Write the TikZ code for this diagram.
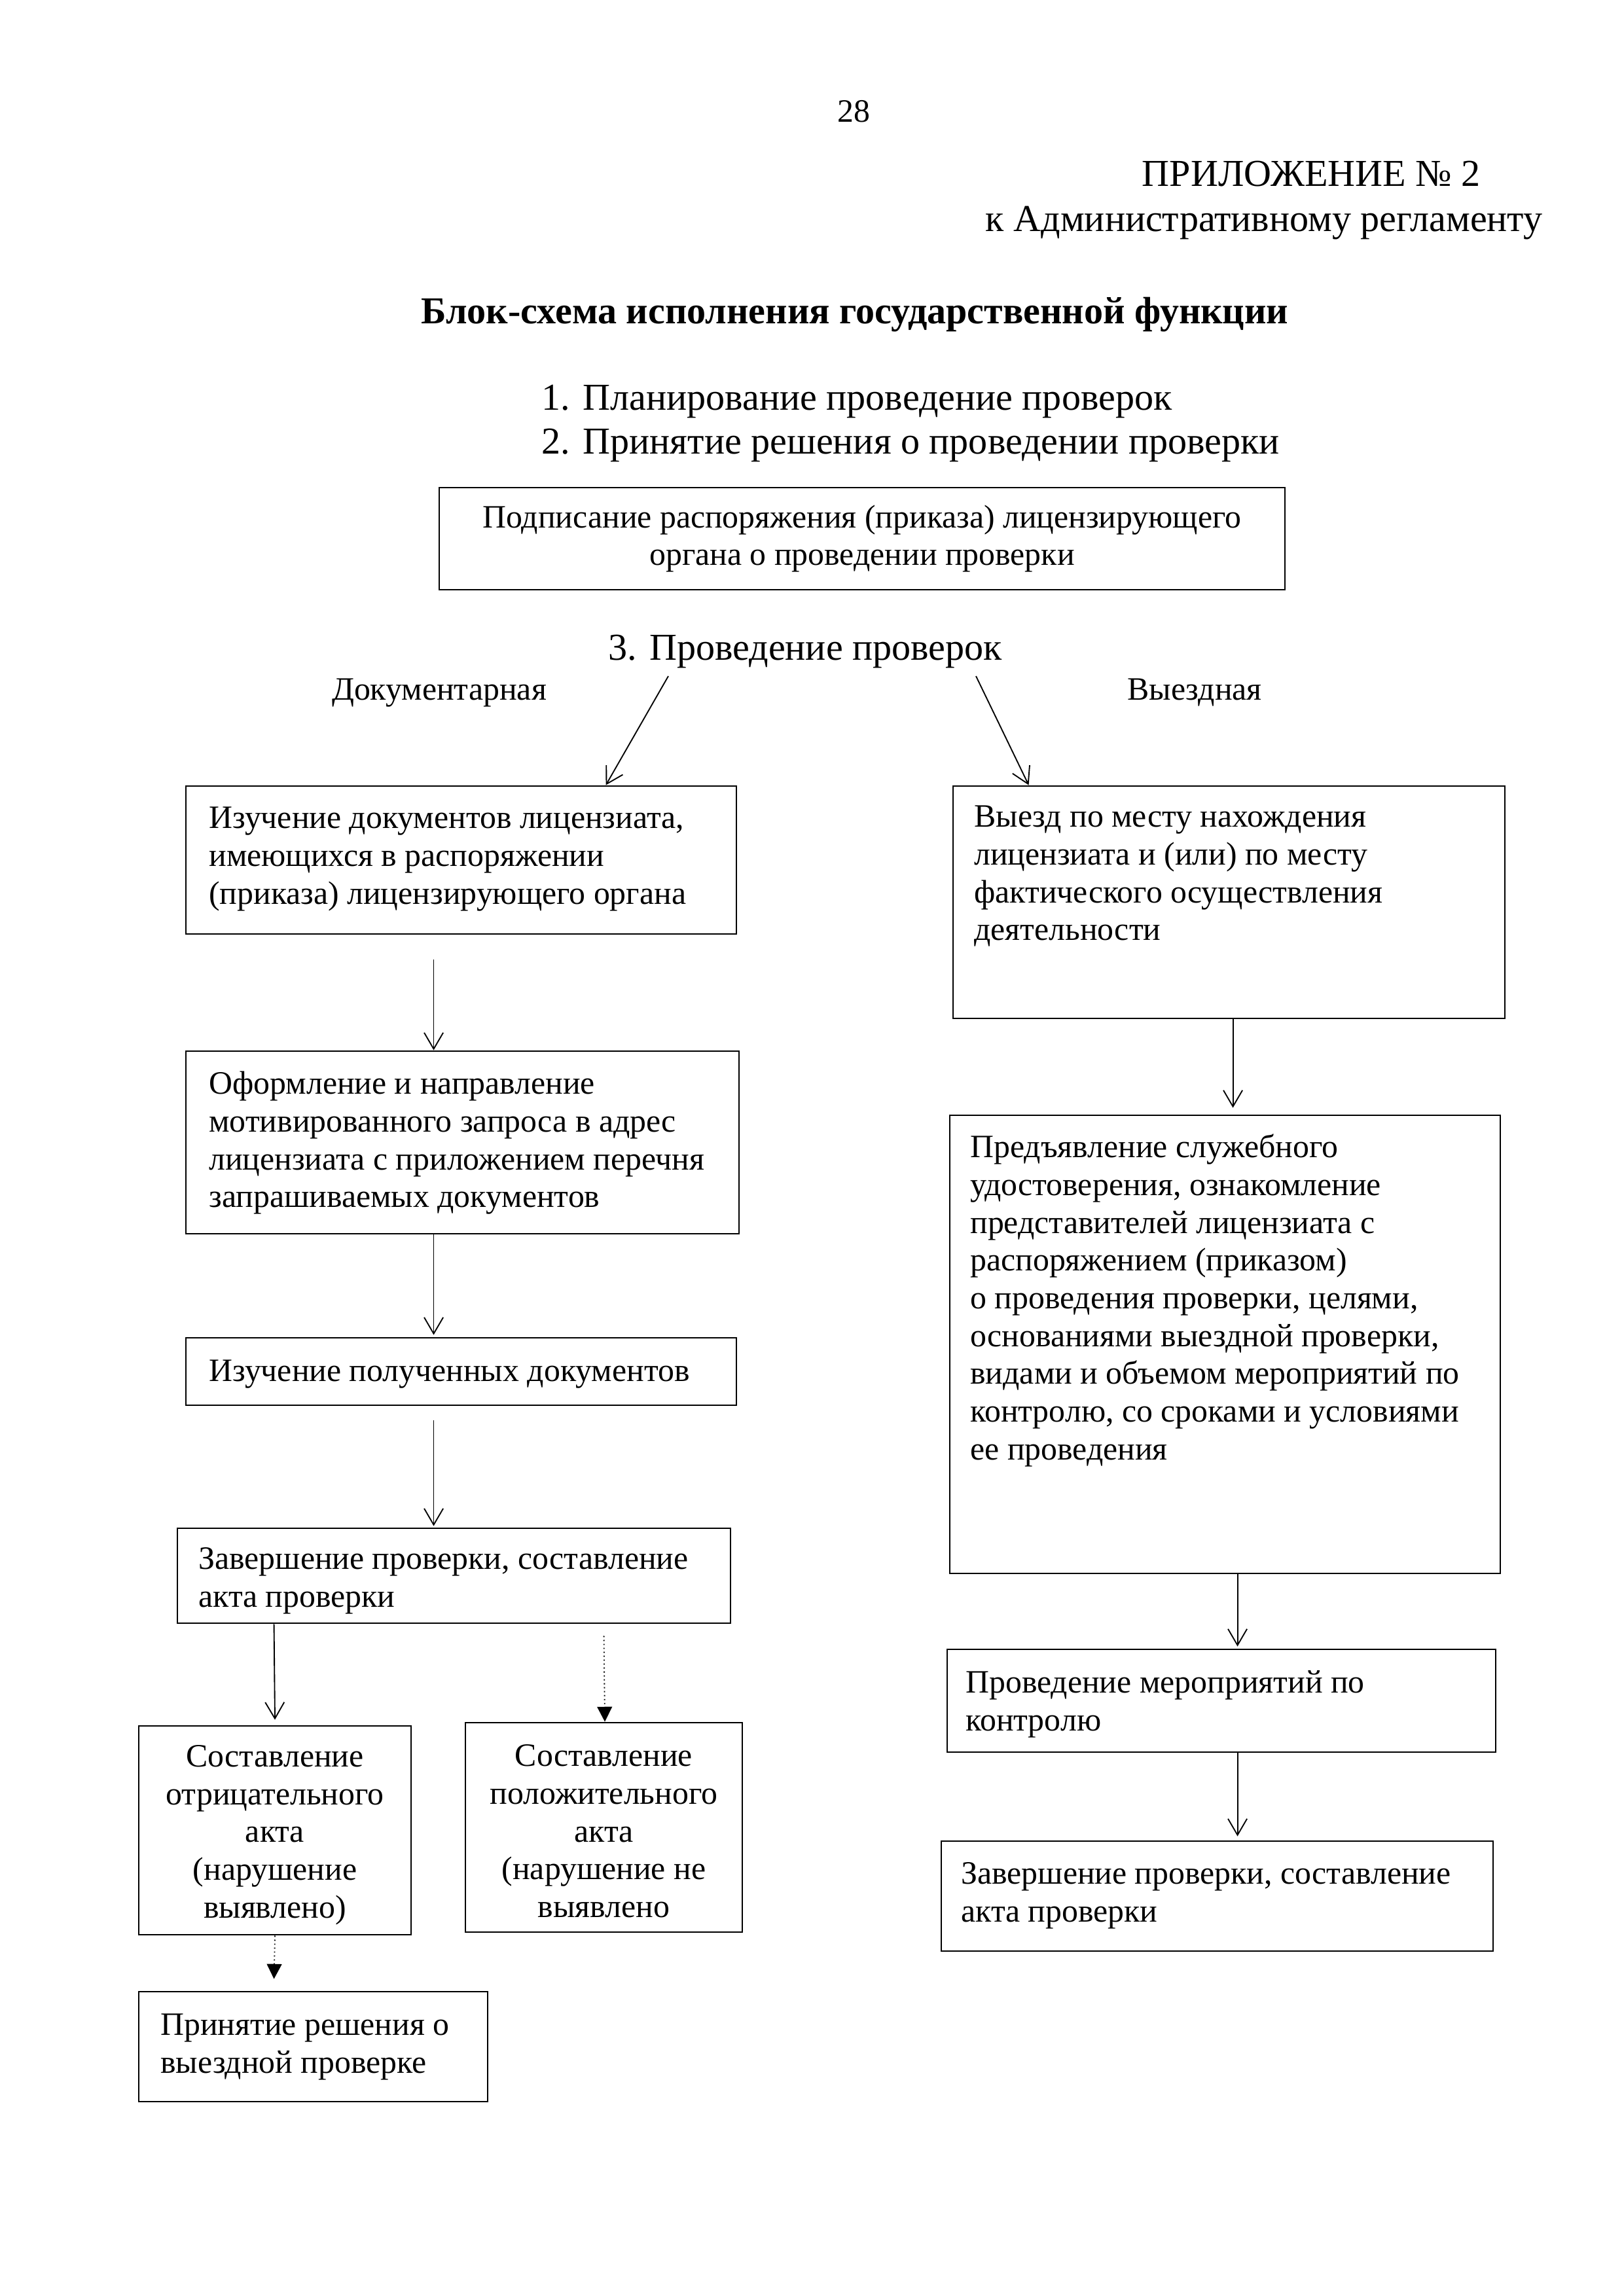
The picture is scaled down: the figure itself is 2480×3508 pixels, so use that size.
\documentclass[tikz,border=0pt]{standalone}
\usepackage{fontspec}
\setmainfont{Liberation Serif}
\usetikzlibrary{arrows.meta,calc,fit}
\begin{document}
\begin{tikzpicture}[x=0.0084677cm, y=-0.0084677cm,
  box/.style={draw, line width=0.7pt, inner sep=0pt},
  txt/.style={font=\fontsize{12}{13.9}\selectfont, inner sep=0pt, align=left, anchor=north west},
  ctxt/.style={font=\fontsize{12}{13.9}\selectfont, inner sep=0pt, align=center},
  big/.style={font=\fontsize{14}{16.1}\selectfont, inner sep=0pt},
  mid/.style={font=\fontsize{12}{13.9}\selectfont, inner sep=0pt},
  arr/.style={line width=0.45pt, -{Straight Barb[length=6pt,width=7pt]}},
  darr/.style={line width=0.45pt, densely dotted, -{Triangle[length=5.5pt,width=5.5pt]}}]
\useasboundingbox (0,0) rectangle (2480,3508);

% header
\node[mid, anchor=base] (pg) at (1304,186) {28};
\node[big, anchor=base west] (app) at (1744,284) {ПРИЛОЖЕНИЕ № 2};
\node[big, anchor=base west] (reg) at (1505,353) {к Административному регламенту};
\node[big, anchor=base, font=\fontsize{14}{16.1}\selectfont\bfseries] (title) at (1306,494) {Блок-схема исполнения государственной функции};
\node[big, anchor=base west] (s1) at (827,626) {1. Планирование проведение проверок};
\node[big, anchor=base west] (s2) at (827,693) {2. Принятие решения о проведении проверки};

% box P
\node[box, fit={(671,745) (1963,901)}] (P) {};
\node[ctxt] (Pt) at (P.center) {Подписание распоряжения (приказа) лицензирующего\\органа о проведении проверки};

\node[big, anchor=base] (s3) at (1230,1008) {3. Проведение проверок};
\node[mid, anchor=base] (doc) at (671,1069) {Документарная};
\node[mid, anchor=base] (vyez) at (1825,1069) {Выездная};

% left column
\node[box, fit={(284,1201) (1125,1427)}] (L1) {};
\node[txt] (L1t) at ($(L1.north west)+(36,25)$) {\strut Изучение документов лицензиата,\\имеющихся в распоряжении\\(приказа) лицензирующего органа};

\node[box, fit={(284,1606) (1129,1885)}] (L2) {};
\node[txt] (L2t) at ($(L2.north west)+(36,26)$) {\strut Оформление и направление\\мотивированного запроса в адрес\\лицензиата с приложением перечня\\запрашиваемых документов};

\node[box, fit={(284,2044) (1125,2147)}] (L3) {};
\node[txt] (L3t) at ($(L3.north west)+(36,27)$) {\strut Изучение полученных документов};

\node[box, fit={(271,2335) (1116,2480)}] (L4) {};
\node[txt] (L4t) at ($(L4.north west)+(33,23)$) {\strut Завершение проверки, составление\\акта проверки};

\node[box, fit={(212,2637) (628,2956)}] (L5) {};
\node[ctxt] (L5t) at ($(L5.center)+(0,7)$) {Составление\\отрицательного\\акта\\(нарушение\\выявлено)};

\node[box, fit={(711,2632) (1134,2952)}] (L6) {};
\node[ctxt] (L6t) at ($(L6.center)+(0,6)$) {Составление\\положительного\\акта\\(нарушение не\\выявлено};

\node[box, fit={(212,3043) (745,3211)}] (L7) {};
\node[txt] (L7t) at ($(L7.north west)+(34,27)$) {\strut Принятие решения о\\выездной проверке};

% right column
\node[box, fit={(1456,1201) (2299,1556)}] (R1) {};
\node[txt] (R1t) at ($(R1.north west)+(33,23)$) {\strut Выезд по месту нахождения\\лицензиата и (или) по месту\\фактического осуществления\\деятельности};

\node[box, fit={(1451,1704) (2292,2404)}] (R2) {};
\node[txt] (R2t) at ($(R2.north west)+(32,25)$) {\strut Предъявление служебного\\удостоверения, ознакомление\\представителей лицензиата с\\распоряжением (приказом)\\о проведения проверки, целями,\\основаниями выездной проверки,\\видами и объемом мероприятий по\\контролю, со сроками и условиями\\ее проведения};

\node[box, fit={(1447,2520) (2285,2677)}] (R3) {};
\node[txt] (R3t) at ($(R3.north west)+(29,27)$) {\strut Проведение мероприятий по\\контролю};

\node[box, fit={(1438,2813) (2281,2981)}] (R4) {};
\node[txt] (R4t) at ($(R4.north west)+(31,26)$) {\strut Завершение проверки, составление\\акта проверки};

% connectors
\coordinate (d1s) at (1021,1033);
\coordinate (d2s) at (1491,1033);
\draw[arr] (d1s) -- ($(L1.north west)+(643,0)$);
\draw[arr] (d2s) -- ($(R1.north west)+(117,0)$);

\draw[arr] ($(L1.south west)+(380,38)$) -- ($(L2.north west)+(380,0)$);
\draw[arr] ($(L2.south west)+(380,0)$) -- ($(L3.north west)+(380,-3)$);
\draw[arr] ($(L3.south west)+(380,22)$) -- ($(L4.north west)+(393,-2)$);
\draw[arr] ($(L4.south west)+(149,0)$) -- ($(L5.north)+(0,-8)$);
\draw[darr] ($(L4.south west)+(653,18)$) -- ($(L6.north)+(1.5,0)$);
\draw[darr] (L5.south) -- ($(L7.north west)+(208,-18)$);

\draw[arr] ($(R1.south west)+(429,0)$) -- ($(R2.north west)+(434,-10)$);
\draw[arr] ($(R2.south west)+(441,0)$) -- ($(R3.north west)+(445,-3)$);
\draw[arr] ($(R3.south west)+(445,0)$) -- ($(R4.north west)+(454,-6)$);
\end{tikzpicture}
\end{document}
